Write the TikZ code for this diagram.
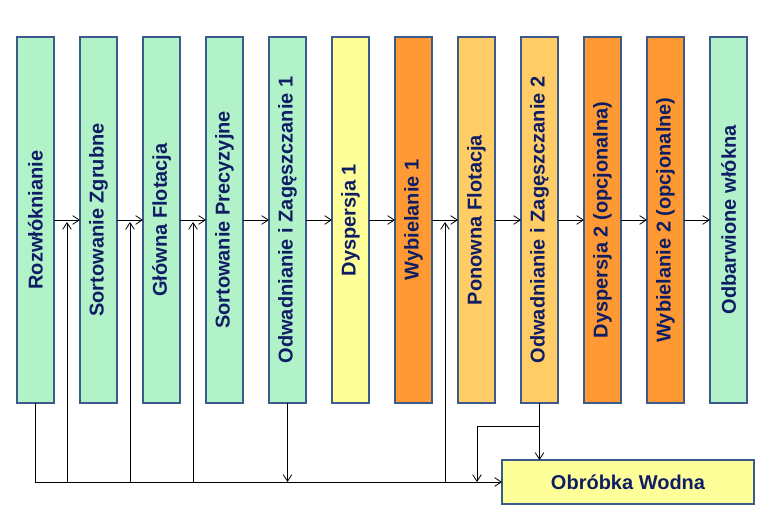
\documentclass[tikz,border=0pt]{standalone}
\usepackage{graphicx}
\usepackage{fontspec}
\setmainfont{Liberation Sans}
\usepackage{tikz}
\usetikzlibrary{arrows.meta, positioning, calc}
\definecolor{stagegreen}{HTML}{B2F2C8}
\definecolor{stageyellow}{HTML}{FFFF99}
\definecolor{stageorange}{HTML}{FF9933}
\definecolor{stagelight}{HTML}{FFCC66}
\definecolor{stageborder}{HTML}{3C5A8C}
\definecolor{stagetext}{HTML}{0F1E64}
\tikzset{
    stage/.style={rectangle, draw=stageborder, line width=1.4pt, outer sep=0pt, inner sep=0pt,
        minimum width=27.75pt, minimum height=274.5pt, text=stagetext,
        font=\fontsize{15}{17}\selectfont\bfseries},
    water/.style={stage, minimum width=189pt, minimum height=33pt, fill=stageyellow},
    arrow/.style={line width=0.6pt, -{Straight Barb[length=5pt,width=6.5pt]}}
}

\begin{document}
\begin{tikzpicture}[x=0.75pt, y=-0.75pt, node distance=19.5pt]
    \useasboundingbox (0,0) rectangle (762,524);

    % Process stages
    \node[stage, fill=stagegreen] (rozw) at (35.5,220) {\rotatebox{90}{Rozwłóknianie}};
    \node[stage, fill=stagegreen, right=of rozw] (sortz) {\rotatebox{90}{Sortowanie Zgrubne}};
    \node[stage, fill=stagegreen, right=of sortz] (flot) {\rotatebox{90}{Główna Flotacja}};
    \node[stage, fill=stagegreen, right=of flot] (sortp) {\rotatebox{90}{Sortowanie Precyzyjne}};
    \node[stage, fill=stagegreen, right=of sortp] (odw1) {\rotatebox{90}{Odwadnianie i Zagęszczanie 1}};
    \node[stage, fill=stageyellow, right=of odw1] (disp1) {\rotatebox{90}{Dyspersja 1}};
    \node[stage, fill=stageorange, right=of disp1] (wyb1) {\rotatebox{90}{Wybielanie 1}};
    \node[stage, fill=stagelight, right=of wyb1] (pflot) {\rotatebox{90}{Ponowna Flotacja}};
    \node[stage, fill=stagelight, right=of pflot] (odw2) {\rotatebox{90}{Odwadnianie i Zagęszczanie 2}};
    \node[stage, fill=stageorange, right=of odw2] (disp2) {\rotatebox{90}{Dyspersja 2 (opcjonalna)}};
    \node[stage, fill=stageorange, right=of disp2] (wyb2) {\rotatebox{90}{Wybielanie 2 (opcjonalne)}};
    \node[stage, fill=stagegreen, right=of wyb2] (odbw) {\rotatebox{90}{Odbarwione włókna}};

    % Water treatment
    \node[water] (obrw) at (628,482) {Obróbka Wodna};

    % Arrows (main line)
    \draw[arrow] (rozw) -- (sortz);
    \draw[arrow] (sortz) -- (flot);
    \draw[arrow] (flot) -- (sortp);
    \draw[arrow] (sortp) -- (odw1);
    \draw[arrow] (odw1) -- (disp1);
    \draw[arrow] (disp1) -- (wyb1);
    \draw[arrow] (wyb1) -- (pflot);
    \draw[arrow] (pflot) -- (odw2);
    \draw[arrow] (odw2) -- (disp2);
    \draw[arrow] (disp2) -- (wyb2);
    \draw[arrow] (wyb2) -- (odbw);

    % Water loop
    \coordinate (g1) at ($(rozw.east)!0.5!(sortz.west)$);
    \coordinate (g2) at ($(sortz.east)!0.5!(flot.west)$);
    \coordinate (g3) at ($(flot.east)!0.5!(sortp.west)$);
    \coordinate (g7) at ($(wyb1.east)!0.5!(pflot.west)$);
    \coordinate (split) at ($(odw2.south)+(0,23)$);
    \coordinate (drop) at ($(obrw.west)+(-25,0)$);
    \draw[arrow] (rozw.south) |- (obrw.west);
    \draw[arrow] (odw1.south) -- (odw1.south |- obrw.west);
    \draw[arrow] (odw2.south) -- (odw2.south |- obrw.north);
    \draw[arrow] (split) -| (drop);
    \draw[arrow] (g1 |- obrw.west) -- ($(g1)+(0,2)$);
    \draw[arrow] (g2 |- obrw.west) -- ($(g2)+(0,2)$);
    \draw[arrow] (g3 |- obrw.west) -- ($(g3)+(0,2)$);
    \draw[arrow] (g7 |- obrw.west) -- ($(g7)+(0,2)$);

\end{tikzpicture}
\end{document}
